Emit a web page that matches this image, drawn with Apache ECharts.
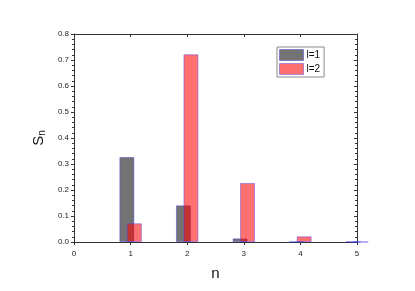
<!DOCTYPE html>
<html><head><meta charset="utf-8">
<script src="https://cdn.jsdelivr.net/npm/echarts@6/dist/echarts.min.js"></script>
<style>html,body{margin:0;padding:0;background:#fff}#c{width:415px;height:291px}</style>
</head><body><div id="c"></div>
<script>
var nValues = [1, 2, 3, 4, 5];
var l1Values = [0.327, 0.141, 0.014, 0.001, 0.001];
var l2Values = [0.072, 0.722, 0.227, 0.022, 0.0];
var seriesNames = ['l=1', 'l=2'];

function pairs(vals){ return nValues.map(function(n,i){ return [n, vals[i]]; }); }

var chart = echarts.init(document.getElementById('c'), null, {renderer:'canvas'});
var font = 'Liberation Sans, Arial, sans-serif';
var lab = {color:'#222', fontSize:8, fontFamily:font};
chart.setOption({
  animation:false,
  backgroundColor:'#fff',
  grid:{left:74, right:58, top:34, bottom:49},
  legend:{
    orient:'vertical', left:277, top:47, data:seriesNames, icon:'rect',
    itemWidth:24, itemHeight:11, itemGap:2,
    borderColor:'#888', borderWidth:1, padding:[2,4,2,2],
    itemStyle:{borderWidth:1},
    textStyle:{fontSize:10, fontFamily:font, color:'#111', padding:[0,0,0,-2]}
  },
  xAxis:[
    {type:'value', min:0, max:5, interval:1, position:'bottom',
     name:'n', nameLocation:'middle', nameGap:24,
     nameTextStyle:{fontSize:15, fontFamily:font, color:'#111'},
     axisLine:{show:true, onZero:false, lineStyle:{color:'#333', width:1}},
     axisTick:{show:true, inside:false, length:3, lineStyle:{color:'#333'}},
     axisLabel:lab, splitLine:{show:false}},
    {type:'value', min:0, max:5, interval:1, position:'top',
     axisLine:{show:true, onZero:false, lineStyle:{color:'#333', width:1}},
     axisTick:{show:true, inside:true, length:3, lineStyle:{color:'#333'}},
     axisLabel:{show:false}, splitLine:{show:false}}
  ],
  yAxis:[
    {type:'value', min:0, max:0.8, interval:0.1, position:'left',
     name:'{s|S}{sub|n}', nameLocation:'middle', nameGap:26, nameRotate:90,
     nameTextStyle:{fontFamily:font, color:'#111',
       rich:{s:{fontSize:15, fontFamily:font, color:'#111'}, sub:{fontSize:10, fontFamily:font, color:'#111', padding:[6,0,0,0]}}},
     axisLine:{show:true, onZero:false, lineStyle:{color:'#333', width:1}},
     axisTick:{show:true, inside:false, length:3, lineStyle:{color:'#333'}},
     minorTick:{show:true, splitNumber:5, length:2, lineStyle:{color:'#333'}},
     axisLabel:Object.assign({formatter:function(v){return v.toFixed(1);}, margin:5}, lab),
     splitLine:{show:false}, minorSplitLine:{show:false}},
    {type:'value', min:0, max:0.8, interval:0.1, position:'right',
     axisLine:{show:true, onZero:false, lineStyle:{color:'#333', width:1}},
     axisTick:{show:true, inside:true, length:3, lineStyle:{color:'#333'}},
     minorTick:{show:true, splitNumber:5, length:2, lineStyle:{color:'#333'}},
     axisLabel:{show:false}, splitLine:{show:false}, minorSplitLine:{show:false}}
  ],
  series:[
    {name:seriesNames[0], type:'bar', xAxisIndex:0, yAxisIndex:0, data:pairs(l1Values),
     barWidth:15, barGap:'-50%', clip:true,
     itemStyle:{color:'rgba(0,0,0,0.55)', borderColor:'rgba(60,60,220,0.45)', borderWidth:1}},
    {name:seriesNames[1], type:'bar', xAxisIndex:0, yAxisIndex:0, data:pairs(l2Values),
     barWidth:15, barGap:'-50%', clip:true,
     itemStyle:{color:'rgba(255,0,0,0.56)', borderColor:'rgba(80,60,230,0.45)', borderWidth:1}}
  ]
});
</script></body></html>
